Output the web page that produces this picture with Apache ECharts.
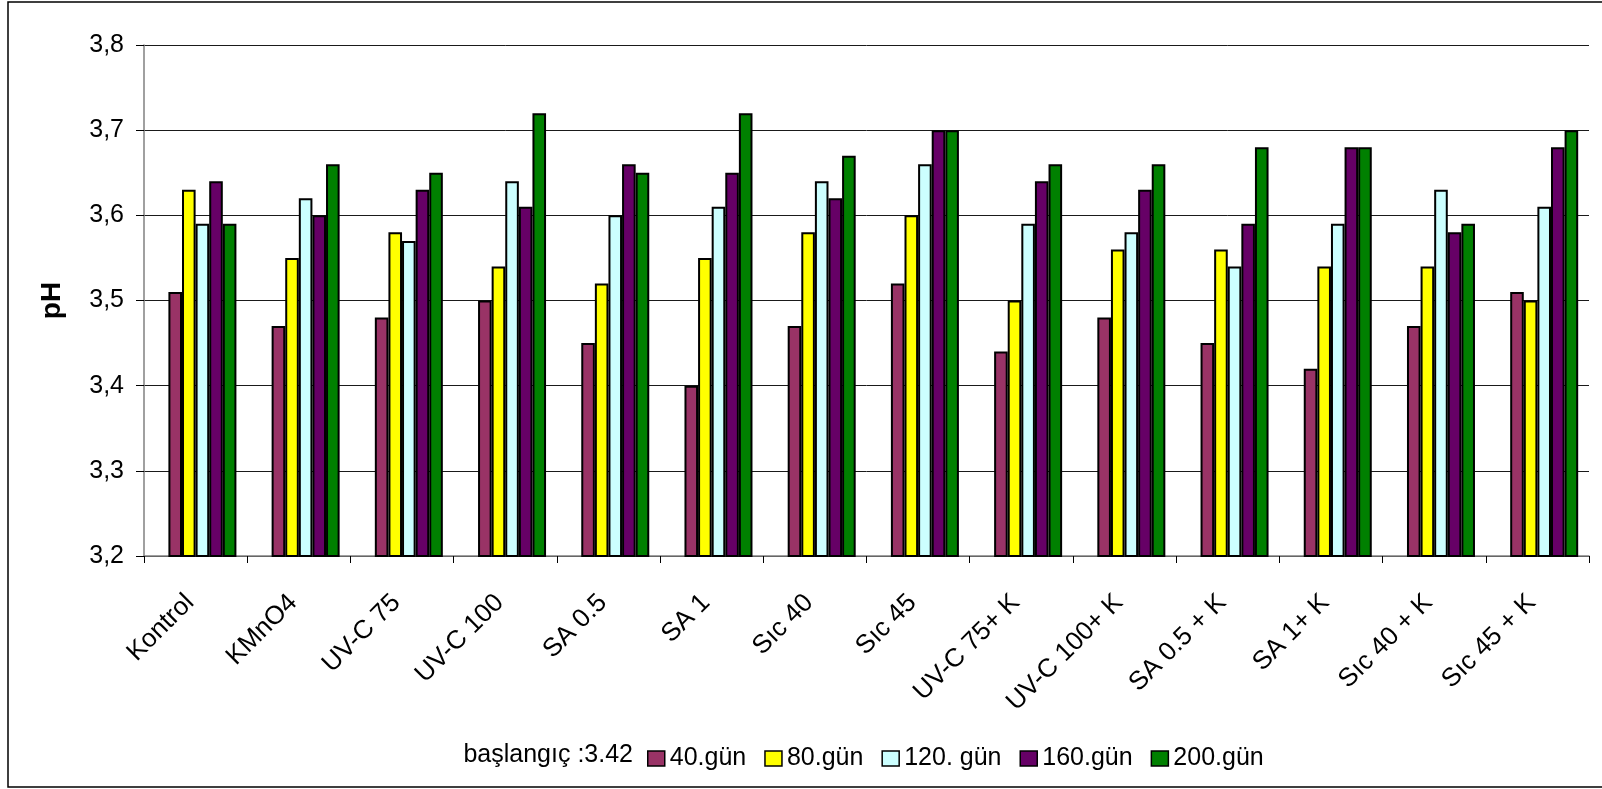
<!DOCTYPE html>
<html>
<head>
<meta charset="utf-8">
<script src="https://cdn.jsdelivr.net/npm/echarts@6/dist/echarts.min.js"></script>
<style>
  html, body { margin: 0; padding: 0; background: #fff; }
  #chart { width: 1602px; height: 789px; }
</style>
</head>
<body>
<div id="chart"></div>
<script>
// Treatments on the category axis
const categories = [
  'Kontrol', 'KMnO4', 'UV-C 75', 'UV-C 100', 'SA 0.5', 'SA 1', 'Sıc 40', 'Sıc 45',
  'UV-C 75+ K', 'UV-C 100+ K', 'SA 0.5 + K', 'SA 1+ K', 'Sıc 40 + K', 'Sıc 45 + K'
];

// pH readings per storage day
const day40  = [3.51, 3.47, 3.48, 3.50, 3.45, 3.40, 3.47, 3.52, 3.44, 3.48, 3.45, 3.42, 3.47, 3.51];
const day80  = [3.63, 3.55, 3.58, 3.54, 3.52, 3.55, 3.58, 3.60, 3.50, 3.56, 3.56, 3.54, 3.54, 3.50];
const day120 = [3.59, 3.62, 3.57, 3.64, 3.60, 3.61, 3.64, 3.66, 3.59, 3.58, 3.54, 3.59, 3.63, 3.61];
const day160 = [3.64, 3.60, 3.63, 3.61, 3.66, 3.65, 3.62, 3.70, 3.64, 3.63, 3.59, 3.68, 3.58, 3.68];
const day200 = [3.59, 3.66, 3.65, 3.72, 3.65, 3.72, 3.67, 3.70, 3.66, 3.66, 3.68, 3.68, 3.59, 3.70];

const seriesNames = ['40.gün', '80.gün', '120. gün', '160.gün', '200.gün'];
const seriesData = [day40, day80, day120, day160, day200];
const seriesColors = ['#993366', '#FFFF00', '#CCFFFF', '#660066', '#008000'];

const yTicks = { min: 3.2, max: 3.8, step: 0.1 };
const startNote = 'başlangıç :3.42';

const FONT = "'Liberation Sans', Arial, sans-serif";
const BAR_W = 13.6;

const chart = echarts.init(document.getElementById('chart'), null, { renderer: 'canvas' });

// An empty leading slot nudges each bar cluster right of its category centre.
const spacer = {
  name: '_spacer',
  type: 'bar',
  data: [],
  barWidth: BAR_W,
  barGap: '0%',
  silent: true,
  itemStyle: { color: 'transparent' }
};

const option = {
  backgroundColor: '#ffffff',
  animation: false,
  textStyle: { fontFamily: FONT, color: '#000' },
  grid: { left: 144, top: 45, right: 13, bottom: 233, containLabel: false },
  xAxis: {
    type: 'category',
    data: categories,
    boundaryGap: true,
    axisLine: { show: true, lineStyle: { color: '#808080', width: 1.5 } },
    axisTick: { show: true, inside: false, length: 7, alignWithLabel: false, lineStyle: { color: '#000', width: 1 } },
    axisLabel: {
      interval: 0, rotate: 45, margin: 37,
      padding: [0, 8, 0, 0],
      fontFamily: FONT, fontSize: 26, color: '#000'
    },
    splitLine: { show: false }
  },
  yAxis: {
    type: 'value',
    min: yTicks.min, max: yTicks.max, interval: yTicks.step,
    name: 'pH',
    nameLocation: 'middle',
    nameGap: 78,
    nameRotate: 90,
    nameTextStyle: { fontFamily: FONT, fontSize: 28, fontWeight: 'bold', color: '#000' },
    axisLine: { show: true, lineStyle: { color: '#808080', width: 1.5 } },
    axisTick: { show: true, inside: false, length: 8, lineStyle: { color: '#000', width: 1 } },
    axisLabel: {
      margin: 20, fontFamily: FONT, fontSize: 25, color: '#000',
      formatter: v => v.toFixed(1).replace('.', ',')
    },
    splitLine: { show: true, lineStyle: { color: '#1a1a1a', width: 1 } }
  },
  legend: {
    left: 642,
    top: 741,
    orient: 'horizontal',
    icon: 'rect',
    itemWidth: 17,
    itemHeight: 15,
    itemGap: 18,
    textStyle: { fontFamily: FONT, fontSize: 25, color: '#000' },
    itemStyle: { borderColor: '#000', borderWidth: 1.5 },
    data: seriesNames
  },
  graphic: [
    {
      type: 'rect',
      shape: { x: 8, y: 2, width: 1604, height: 785 },
      style: { fill: 'none', stroke: '#000', lineWidth: 1.5 },
      silent: true
    },
    {
      type: 'text',
      x: 633, y: 755,
      style: {
        text: startNote,
        fontFamily: FONT, fontSize: 25, fill: '#000',
        textAlign: 'right', textVerticalAlign: 'middle'
      }
    }
  ],
  series: [spacer].concat(seriesNames.map((name, i) => ({
    name,
    type: 'bar',
    data: seriesData[i],
    barWidth: BAR_W,
    barGap: '0%',
    itemStyle: { color: seriesColors[i], borderColor: '#000', borderWidth: 2 },
    emphasis: { disabled: true }
  })))
};

chart.setOption(option);
</script>
</body>
</html>
